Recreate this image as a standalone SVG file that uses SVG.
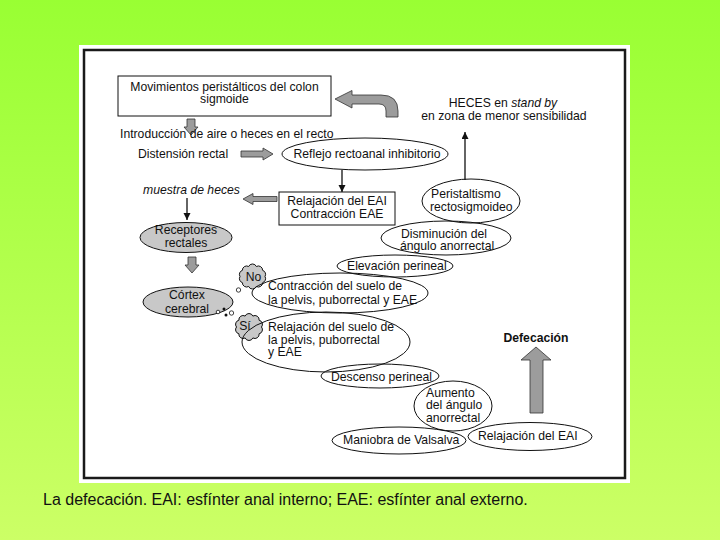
<svg xmlns="http://www.w3.org/2000/svg" width="720" height="540" viewBox="0 0 720 540">
<defs>
<linearGradient id="bg" x1="0" y1="0" x2="0" y2="1">
<stop offset="0" stop-color="#99ff33"/>
<stop offset="1" stop-color="#ccff66"/>
</linearGradient>
<marker id="ah" markerWidth="8" markerHeight="8" refX="7" refY="3.5" orient="auto" markerUnits="userSpaceOnUse"><path d="M0,0 L7,3.5 L0,7 z" fill="#111"/></marker>
</defs>
<style>
.t{font-family:"Liberation Sans",Arial,sans-serif;font-size:12.2px;fill:#111}
.c{text-anchor:middle}
.i{font-style:italic}
.b{font-weight:bold}
.ol{fill:none;stroke:#111;stroke-width:1}
.gr{fill:#c8c8c8;stroke:#111;stroke-width:1}
.ga{fill:#9c9c9c;stroke:#333;stroke-width:0.8}
.ln{stroke:#111;stroke-width:1.3;fill:none;marker-end:url(#ah)}
.bub{fill:#fff;stroke:#111;stroke-width:0.8}
</style>
<rect x="0" y="0" width="720" height="540" fill="url(#bg)"/>
<rect x="79" y="45" width="551" height="438" fill="#fff"/>
<rect x="84" y="50" width="541" height="428" fill="none" stroke="#1a1a1a" stroke-width="2.5"/>

<g id="connectors">
<path class="ga" d="M187,119 L195,119 L195,127 L198,127 L191,135 L184,127 L187,127 Z"/>
<path class="ga" d="M241,151 L263,151 L263,148 L273,154 L263,160 L263,157 L241,157 Z"/>
<path class="ga" d="M335,99 L352,90.5 L352,95 L381,95 Q398,95 398,111 L398,117 L386,117 L386,111 Q386,104 379,104 L352,104 L352,108 Z"/>
<path class="ga" d="M277,196.5 L253,196.5 L253,193.5 L243,199 L253,204.5 L253,201.5 L277,201.5 Z"/>
<path class="ga" d="M188,257 L196,257 L196,265 L199,265 L192,273 L185,265 L188,265 Z"/>
<path class="ga" d="M530,413 L530,360 L521,360 L536,347 L551,360 L543,360 L543,413 Z"/>
<line class="ln" x1="342" y1="170" x2="342" y2="192"/>
<line class="ln" x1="465" y1="180" x2="465" y2="132"/>
<line class="ln" x1="187" y1="198" x2="187" y2="220"/>
<circle class="bub" cx="238.5" cy="290" r="2.2"/>
<circle class="bub" cx="231.5" cy="313" r="2.2"/>
</g>

<g id="movimientos">
<rect x="118" y="76" width="213" height="40" fill="#fff" stroke="#111" stroke-width="1"/>
<text class="t c" x="224.5" y="90.5">Movimientos peristálticos del colon</text>
<text class="t c" x="224.5" y="103">sigmoide</text>
</g>
<g id="introduccion"><text class="t" x="120" y="138">Introducción de aire o heces en el recto</text></g>
<g id="distension"><text class="t" x="138" y="158">Distensión rectal</text></g>
<g id="reflejo">
<ellipse class="ol" cx="365" cy="154" rx="83" ry="16"/>
<text class="t c" x="367" y="158">Reflejo rectoanal inhibitorio</text>
</g>
<g id="heces">
<text class="t c" x="503" y="107">HECES en <tspan class="i">stand by</tspan></text>
<text class="t c" x="504" y="119.5">en zona de menor sensibilidad</text>
</g>
<g id="relajacion-eai-box">
<rect x="279" y="192" width="116" height="33" fill="#fff" stroke="#111" stroke-width="1"/>
<text class="t c" x="337" y="205">Relajación del EAI</text>
<text class="t c" x="337" y="217.5">Contracción EAE</text>
</g>
<g id="muestra"><text class="t i" x="143" y="194">muestra de heces</text></g>
<g id="receptores">
<ellipse class="gr" cx="186" cy="237.5" rx="46" ry="15"/>
<text class="t c" x="186" y="234">Receptores</text>
<text class="t c" x="186" y="246.5">rectales</text>
</g>
<g id="cortex">
<ellipse class="gr" cx="188" cy="302" rx="45" ry="15"/>
<text class="t c" x="187" y="299">Córtex</text>
<text class="t c" x="187" y="312.5">cerebral</text>
<circle class="bub" cx="218" cy="312" r="1.8"/>
<circle cx="224" cy="309" r="1.5" fill="#111"/>
<circle cx="226" cy="315" r="1.5" fill="#111"/>
</g>
<g id="no">
<path class="gr" d="M265,276.5 A4.2,4.2 0 0 1 262.61,282.67 A4.2,4.2 0 0 1 256.36,286.49 A4.2,4.2 0 0 1 248.64,286.49 A4.2,4.2 0 0 1 242.39,282.67 A4.2,4.2 0 0 1 240,276.5 A4.2,4.2 0 0 1 242.39,270.33 A4.2,4.2 0 0 1 248.64,266.51 A4.2,4.2 0 0 1 256.36,266.51 A4.2,4.2 0 0 1 262.61,270.33 A4.2,4.2 0 0 1 265,276.5 Z"/>
<text class="t c" x="253.5" y="281">No</text>
</g>
<g id="si">
<path class="gr" d="M261.5,327 A4.2,4.2 0 0 1 259.11,333.76 A4.2,4.2 0 0 1 252.86,337.94 A4.2,4.2 0 0 1 245.14,337.94 A4.2,4.2 0 0 1 238.89,333.76 A4.2,4.2 0 0 1 236.5,327 A4.2,4.2 0 0 1 238.89,320.24 A4.2,4.2 0 0 1 245.14,316.06 A4.2,4.2 0 0 1 252.86,316.06 A4.2,4.2 0 0 1 259.11,320.24 A4.2,4.2 0 0 1 261.5,327 Z"/>
<text class="t c" x="245" y="330">Sí</text>
</g>
<g id="peristaltismo">
<ellipse class="ol" cx="471" cy="201" rx="49" ry="22"/>
<text class="t" x="431" y="198">Peristaltismo</text>
<text class="t" x="430" y="210.5">rectosigmoideo</text>
</g>
<g id="disminucion">
<ellipse class="ol" cx="446" cy="238" rx="65" ry="17"/>
<text class="t" x="401" y="237.5">Disminución del</text>
<text class="t" x="400" y="250">ángulo anorrectal</text>
</g>
<g id="elevacion">
<ellipse class="ol" cx="395" cy="266" rx="58" ry="11"/>
<text class="t" x="347" y="270">Elevación perineal</text>
</g>
<g id="contraccion-suelo">
<ellipse class="ol" cx="340" cy="293" rx="88" ry="20"/>
<text class="t" x="268" y="290">Contracción del suelo de</text>
<text class="t" x="268" y="304">la pelvis, puborrectal y EAE</text>
</g>
<g id="relajacion-suelo">
<ellipse class="ol" cx="326" cy="342" rx="84" ry="30"/>
<text class="t" x="268" y="331">Relajación del suelo de</text>
<text class="t" x="268" y="343.5">la pelvis, puborrectal</text>
<text class="t" x="268" y="356">y EAE</text>
</g>
<g id="descenso">
<ellipse class="ol" cx="380" cy="376" rx="59" ry="12"/>
<text class="t" x="331" y="381">Descenso perineal</text>
</g>
<g id="aumento">
<ellipse class="ol" cx="453" cy="406" rx="39" ry="25"/>
<text class="t" x="426" y="396.5">Aumento</text>
<text class="t" x="426" y="409">del ángulo</text>
<text class="t" x="426" y="421.5">anorrectal</text>
</g>
<g id="valsalva">
<ellipse class="ol" cx="399" cy="440.5" rx="67" ry="13.5"/>
<text class="t" x="343" y="443.5">Maniobra de Valsalva</text>
</g>
<g id="relajacion-eai">
<ellipse class="ol" cx="530" cy="436.5" rx="62" ry="14"/>
<text class="t" x="478" y="440">Relajación del EAI</text>
</g>
<g id="defecacion"><text class="t c b" x="536" y="342">Defecación</text></g>
<text x="43" y="505" style="font-family:'Liberation Sans',Arial,sans-serif;font-size:16px;fill:#111">La defecación. EAI: esfínter anal interno; EAE: esfínter anal externo.</text>
</svg>
